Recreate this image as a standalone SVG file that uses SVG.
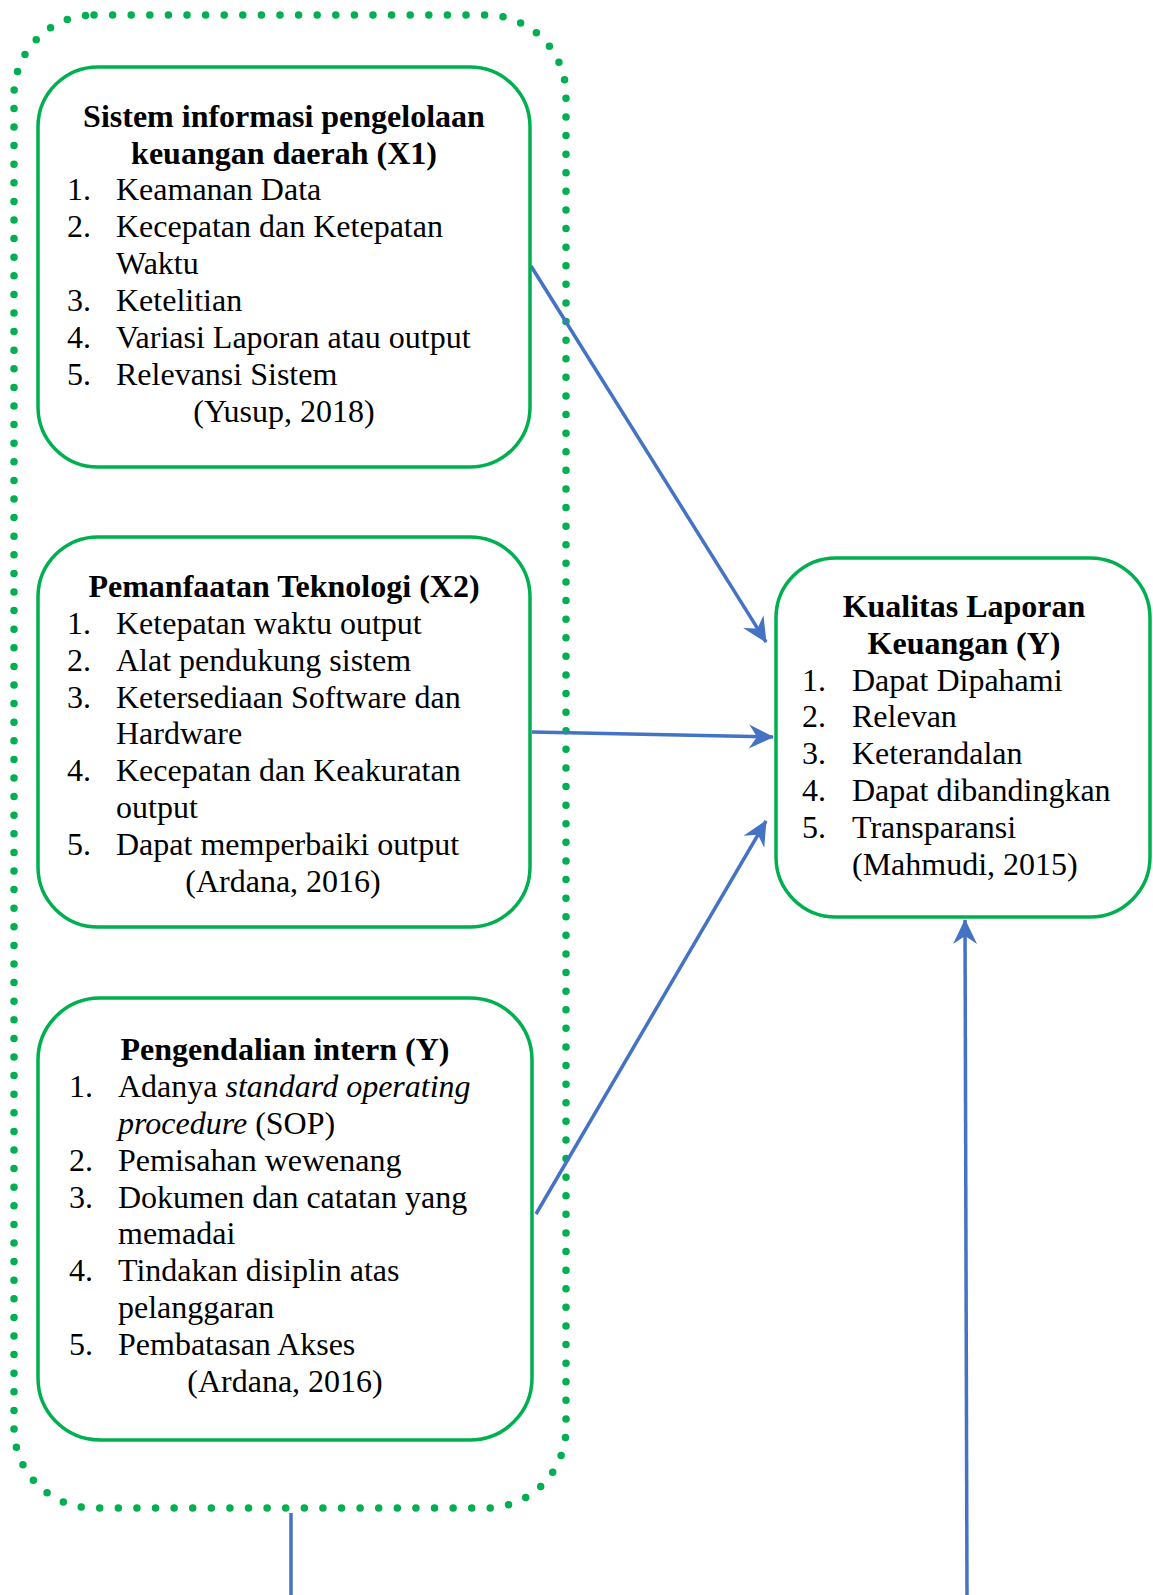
<svg xmlns="http://www.w3.org/2000/svg" width="1153" height="1595" viewBox="0 0 1153 1595">
<style>
.box{fill:#fff;stroke:#00B050;stroke-width:3.5}
.dot{fill:none;stroke:#00B050;stroke-width:7.5;stroke-linecap:round;stroke-dasharray:0 18.6}
.t{font-family:"Liberation Serif","Times New Roman",serif;font-size:32px;fill:#000}
.b{font-weight:bold;text-anchor:middle}
.c{text-anchor:middle}
.i{font-style:italic}
.con{fill:none;stroke:#4472C4;stroke-width:3.5}
</style>
<defs>
<marker id="arr" viewBox="-26 -13 28 26" refX="0" refY="0" markerWidth="28" markerHeight="26" markerUnits="userSpaceOnUse" orient="auto">
<path d="M1,0 L-24,-12 L-16,0 L-24,12 Z" fill="#4472C4"/>
</marker>
</defs>
<rect width="1153" height="1595" fill="#fff"/>
<g id="group-border">
<rect class="dot" x="14" y="15" width="552" height="1493" rx="80" ry="80"/>
</g>
<g id="connectors">
<line class="con" x1="531" y1="266" x2="766" y2="642" marker-end="url(#arr)"/>
<line class="con" x1="532" y1="732" x2="773" y2="737" marker-end="url(#arr)"/>
<line class="con" x1="536" y1="1214" x2="766" y2="821" marker-end="url(#arr)"/>
<line class="con" x1="291" y1="1513" x2="291" y2="1595"/>
<line class="con" x1="967" y1="1595" x2="965" y2="920" marker-end="url(#arr)"/>
</g>
<g id="node-x1">
<rect class="box" x="38" y="67" width="492" height="400" rx="60" ry="60"/>
<text class="t b" x="284" y="127">Sistem informasi pengelolaan</text>
<text class="t b" x="284" y="164">keuangan daerah (X1)</text>
<text class="t" x="67" y="200">1.</text><text class="t" x="116" y="200">Keamanan Data</text>
<text class="t" x="67" y="237">2.</text><text class="t" x="116" y="237">Kecepatan dan Ketepatan</text>
<text class="t" x="116" y="274">Waktu</text>
<text class="t" x="67" y="311">3.</text><text class="t" x="116" y="311">Ketelitian</text>
<text class="t" x="67" y="348">4.</text><text class="t" x="116" y="348">Variasi Laporan atau output</text>
<text class="t" x="67" y="385">5.</text><text class="t" x="116" y="385">Relevansi Sistem</text>
<text class="t c" x="284" y="422">(Yusup, 2018)</text>
</g>
<g id="node-x2">
<rect class="box" x="38" y="537" width="492" height="390" rx="60" ry="60"/>
<text class="t b" x="284" y="597">Pemanfaatan Teknologi (X2)</text>
<text class="t" x="67" y="634">1.</text><text class="t" x="116" y="634">Ketepatan waktu output</text>
<text class="t" x="67" y="671">2.</text><text class="t" x="116" y="671">Alat pendukung sistem</text>
<text class="t" x="67" y="708">3.</text><text class="t" x="116" y="708">Ketersediaan Software dan</text>
<text class="t" x="116" y="744">Hardware</text>
<text class="t" x="67" y="781">4.</text><text class="t" x="116" y="781">Kecepatan dan Keakuratan</text>
<text class="t" x="116" y="818">output</text>
<text class="t" x="67" y="855">5.</text><text class="t" x="116" y="855">Dapat memperbaiki output</text>
<text class="t c" x="283" y="892">(Ardana, 2016)</text>
</g>
<g id="node-x3">
<rect class="box" x="38" y="998" width="494" height="442" rx="62" ry="62"/>
<text class="t b" x="285" y="1060">Pengendalian intern (Y)</text>
<text class="t" x="69" y="1097">1.</text><text class="t" x="118" y="1097">Adanya <tspan class="i">standard operating</tspan></text>
<text class="t" x="118" y="1134"><tspan class="i">procedure</tspan> (SOP)</text>
<text class="t" x="69" y="1171">2.</text><text class="t" x="118" y="1171">Pemisahan wewenang</text>
<text class="t" x="69" y="1208">3.</text><text class="t" x="118" y="1208">Dokumen dan catatan yang</text>
<text class="t" x="118" y="1244">memadai</text>
<text class="t" x="69" y="1281">4.</text><text class="t" x="118" y="1281">Tindakan disiplin atas</text>
<text class="t" x="118" y="1318">pelanggaran</text>
<text class="t" x="69" y="1355">5.</text><text class="t" x="118" y="1355">Pembatasan Akses</text>
<text class="t c" x="285" y="1392">(Ardana, 2016)</text>
</g>
<g id="node-y">
<rect class="box" x="776" y="558" width="374" height="359" rx="60" ry="60"/>
<text class="t b" x="964" y="617">Kualitas Laporan</text>
<text class="t b" x="964" y="654">Keuangan (Y)</text>
<text class="t" x="802" y="691">1.</text><text class="t" x="852" y="691">Dapat Dipahami</text>
<text class="t" x="802" y="727">2.</text><text class="t" x="852" y="727">Relevan</text>
<text class="t" x="802" y="764">3.</text><text class="t" x="852" y="764">Keterandalan</text>
<text class="t" x="802" y="801">4.</text><text class="t" x="852" y="801">Dapat dibandingkan</text>
<text class="t" x="802" y="838">5.</text><text class="t" x="852" y="838">Transparansi</text>
<text class="t" x="852" y="875">(Mahmudi, 2015)</text>
</g>
</svg>
